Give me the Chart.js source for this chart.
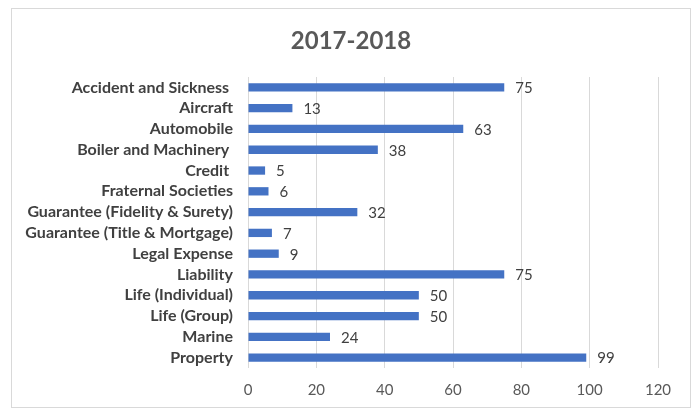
<!DOCTYPE html>
<html>
<head>
<meta charset="utf-8">
<script src="https://cdn.jsdelivr.net/npm/chart.js@4.4.0/dist/chart.umd.min.js"></script>
<style>
  html, body { margin: 0; padding: 0; background: #ffffff; }
  #wrap { position: relative; width: 692px; height: 409px; }
</style>
</head>
<body>
<div id="wrap"><canvas id="c"></canvas></div>
<script>
const categories = [
  "Accident and Sickness ",
  "Aircraft",
  "Automobile",
  "Boiler and Machinery ",
  "Credit ",
  "Fraternal Societies",
  "Guarantee (Fidelity & Surety)",
  "Guarantee (Title & Mortgage)",
  "Legal Expense",
  "Liability",
  "Life (Individual)",
  "Life (Group)",
  "Marine",
  "Property"
];
const values = [75, 13, 63, 38, 5, 6, 32, 7, 9, 75, 50, 50, 24, 99];
const xTicks = [0, 20, 40, 60, 80, 100, 120];
const chartTitle = "2017-2018";

const FONT = "Lato, 'Open Sans', sans-serif";

const frame = {
  id: 'frame',
  beforeDraw(chart) {
    const ctx = chart.ctx;
    ctx.save();
    ctx.fillStyle = '#ffffff';
    ctx.fillRect(0, 0, chart.width, chart.height);
    ctx.strokeStyle = '#d9d9d9';
    ctx.lineWidth = 1;
    ctx.strokeRect(11.5, 8.5, 679, 399);
    ctx.font = "bold 24px " + FONT;
    ctx.fillStyle = '#595959';
    ctx.textAlign = 'center';
    ctx.textBaseline = 'middle';
    ctx.fillText(chartTitle, 351, 41);
    ctx.restore();
  }
};

const valueLabels = {
  id: 'valueLabels',
  afterDatasetsDraw(chart) {
    const ctx = chart.ctx;
    const meta = chart.getDatasetMeta(0);
    ctx.save();
    ctx.font = "15px " + FONT;
    ctx.fillStyle = '#404040';
    ctx.textAlign = 'left';
    ctx.textBaseline = 'middle';
    meta.data.forEach((bar, i) => {
      ctx.fillText(String(values[i]), bar.x + 11, bar.y + 1);
    });
    ctx.restore();
  }
};

new Chart(document.getElementById('c'), {
  type: 'bar',
  data: {
    labels: categories,
    datasets: [{
      data: values,
      backgroundColor: '#4472C4',
      borderWidth: 0,
      categoryPercentage: 1.0,
      barPercentage: 0.4
    }]
  },
  options: {
    indexAxis: 'y',
    responsive: true,
    maintainAspectRatio: false,
    animation: false,
    layout: { padding: { left: 0, right: 34, top: 77, bottom: 0 } },
    plugins: {
      legend: { display: false },
      tooltip: { enabled: false },
      title: { display: false }
    },
    scales: {
      x: {
        min: 0,
        max: 120,
        afterBuildTicks(scale) { scale.ticks = xTicks.map(v => ({ value: v })); },
        afterFit(scale) { scale.height = 41; },
        grid: { color: '#d9d9d9', drawTicks: false },
        border: { display: false },
        ticks: { color: '#595959', font: { family: FONT, size: 15 }, padding: 13 }
      },
      y: {
        afterFit(scale) { scale.width = 248; },
        grid: { display: false, drawTicks: false },
        border: { display: false },
        ticks: { color: '#404040', font: { family: FONT, size: 16, weight: 'bold' }, padding: 15, autoSkip: false }
      }
    }
  },
  plugins: [frame, valueLabels]
});
</script>
</body>
</html>
